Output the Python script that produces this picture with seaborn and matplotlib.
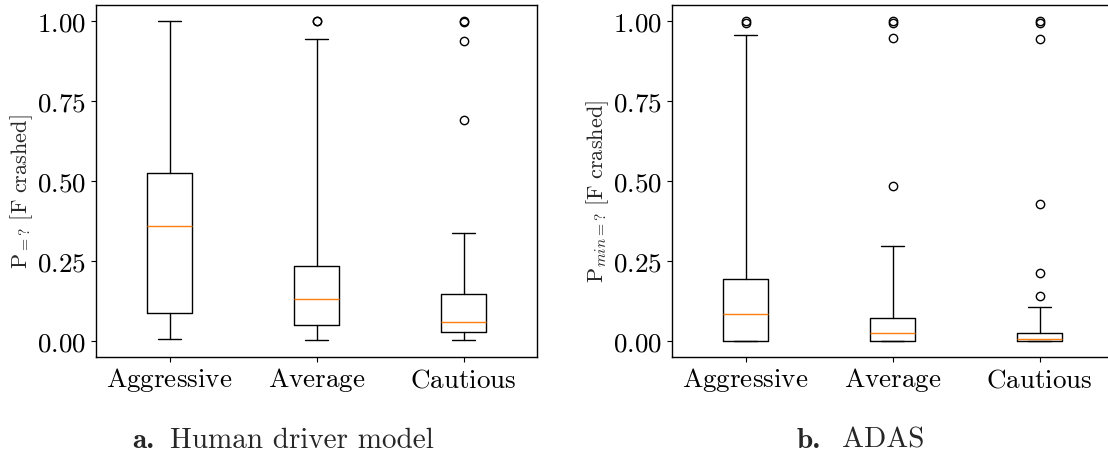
import matplotlib
matplotlib.use("Agg")
import matplotlib.pyplot as plt
import seaborn as sns

# Driver profiles on the x axis
profiles = ["Aggressive", "Average", "Cautious"]

# Box statistics for the human driver model, P=? [F crashed]
human_whislo = [0.004, 0.003, 0.002]
human_q1 = [0.086, 0.049, 0.028]
human_med = [0.359, 0.131, 0.058]
human_q3 = [0.523, 0.234, 0.147]
human_whishi = [1.0, 0.943, 0.336]
human_fliers = [[], [0.999, 1.0], [0.691, 0.936, 0.998, 1.0]]

# Box statistics for the ADAS controller, Pmin=? [F crashed]
adas_whislo = [0.0, 0.0, 0.0]
adas_q1 = [0.0, 0.0, 0.0]
adas_med = [0.082, 0.022, 0.005]
adas_q3 = [0.193, 0.070, 0.024]
adas_whishi = [0.957, 0.297, 0.104]
adas_fliers = [[0.993, 1.0],
               [0.485, 0.948, 0.993, 1.0],
               [0.138, 0.210, 0.426, 0.943, 0.993, 1.0]]

y_ticks = [0.0, 0.25, 0.5, 0.75, 1.0]

sns.set_theme(style="ticks", rc={
    "axes.edgecolor": "black",
    "axes.linewidth": 1.0,
    "xtick.color": "black",
    "ytick.color": "black",
    "xtick.major.size": 3.5,
    "ytick.major.size": 3.5,
    "xtick.major.width": 0.8,
    "ytick.major.width": 0.8,
})
plt.rcParams["mathtext.fontset"] = "cm"
plt.rcParams["font.family"] = ["DejaVu Serif", "DejaVu Sans"]


def box_stats(whislo, q1, med, q3, whishi, fliers):
    return [dict(whislo=a, q1=b, med=c, q3=d, whishi=e, fliers=f)
            for a, b, c, d, e, f in zip(whislo, q1, med, q3, whishi, fliers)]


def draw_panel(ax, stats, ylabel):
    ax.bxp(stats, positions=[1, 2, 3], widths=0.3,
           boxprops=dict(color="black", linewidth=1.0),
           whiskerprops=dict(color="black", linewidth=1.0),
           capprops=dict(color="black", linewidth=1.0),
           medianprops=dict(color="#ff7f0e", linewidth=1.0),
           flierprops=dict(marker="o", markersize=6, markerfacecolor="none",
                           markeredgecolor="black", markeredgewidth=1.0))
    ax.set_xlim(0.5, 3.5)
    ax.set_ylim(-0.05, 1.05)
    ax.set_xticks([1, 2, 3])
    ax.set_xticklabels([r"$\mathrm{%s}$" % p for p in profiles], fontsize=19.5)
    ax.set_yticks(y_ticks)
    ax.set_yticklabels([r"$%.2f$" % t for t in y_ticks], fontsize=19.5)
    ax.set_ylabel(ylabel, fontsize=16, labelpad=2)
    ax.yaxis.label.set_y(0.468)
    for s in ax.spines.values():
        s.set_visible(True)
        s.set_color("black")


fig = plt.figure(figsize=(11.08, 4.58), dpi=100)
W, H = 1108.0, 458.0
bottom = (H - 356.5) / H
height = 351.5 / H
ax1 = fig.add_axes([96 / W, bottom, 441 / W, height])
ax2 = fig.add_axes([672 / W, bottom, 441 / W, height])

draw_panel(ax1, box_stats(human_whislo, human_q1, human_med, human_q3,
                          human_whishi, human_fliers),
           r"$\mathrm{P}_{=?}\ [\mathrm{F\ crashed}]$")
draw_panel(ax2, box_stats(adas_whislo, adas_q1, adas_med, adas_q3,
                          adas_whishi, adas_fliers),
           r"$\mathrm{P}_{min=?}\ [\mathrm{F\ crashed}]$")

# Sub-figure captions: bold letter followed by the panel title
cap_y = (H - 448) / H
fig.text(132 / W, cap_y, "a.", fontfamily="cmb10", fontsize=21,
         ha="left", va="baseline")
fig.text(170 / W, cap_y, "Human driver model", fontfamily="cmr10", fontsize=21,
         ha="left", va="baseline")
fig.text(797 / W, cap_y, "b.", fontfamily="cmb10", fontsize=21,
         ha="left", va="baseline")
fig.text(842 / W, cap_y, "ADAS", fontfamily="cmr10", fontsize=21,
         ha="left", va="baseline")

fig.savefig("out.png", dpi=100, facecolor="white")
